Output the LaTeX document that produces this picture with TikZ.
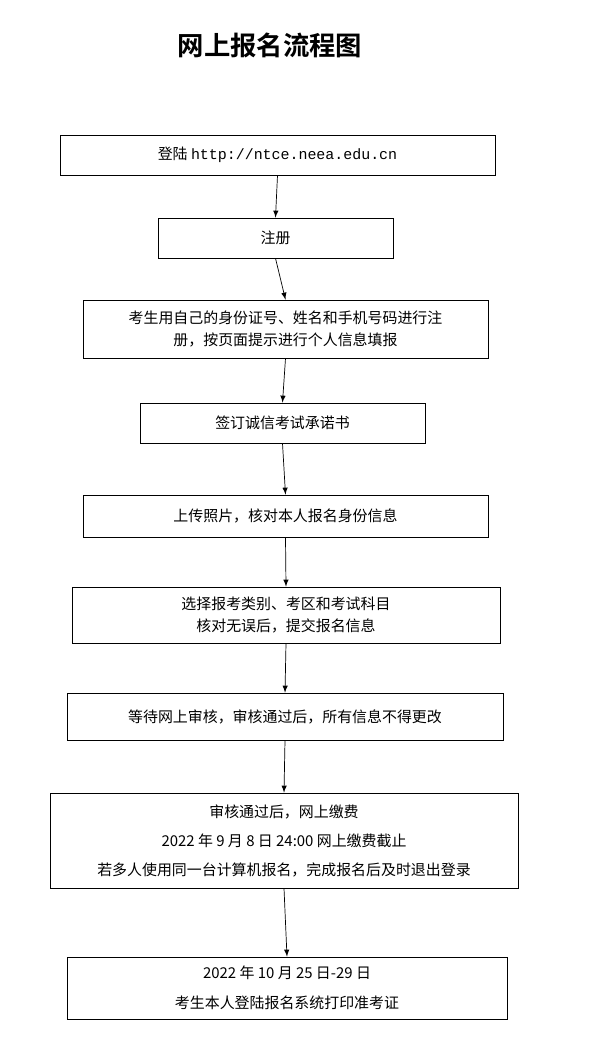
\documentclass[tikz,border=0pt]{standalone}
\usepackage{fontspec}
\setmainfont{Noto Sans CJK SC}
\setmonofont{Liberation Mono}
\newfontfamily\titlefont{Noto Sans CJK SC Bold}
\begin{document}
\begin{tikzpicture}[> = latex,
	stepbox/.style = {draw, thin, align = center, inner sep = 0pt, font = \fontsize{8.5}{12.5}\selectfont}]

	\useasboundingbox (0, 0) rectangle (12, -20.92);

	% Title

	\node (title) at (5.4, -0.9) {\titlefont\fontsize{15}{17}\selectfont 网上报名流程图};

	% Steps

	\node [stepbox, minimum width = 8.7cm, minimum height = 0.8cm] (login) at (5.55, -3.1) {登陆 \texttt{http://ntce.neea.edu.cn}};
	\node [stepbox, minimum width = 4.7cm, minimum height = 0.8cm] (register) at (5.51, -4.76) {注册};
	\node [stepbox, minimum width = 8.1cm, minimum height = 1.16cm] (info) at (5.71, -6.58) {考生用自己的身份证号、姓名和手机号码进行注\\册，按页面提示进行个人信息填报};
	\node [stepbox, minimum width = 5.7cm, minimum height = 0.8cm] (promise) at (5.65, -8.46) {签订诚信考试承诺书};
	\node [stepbox, minimum width = 8.1cm, minimum height = 0.84cm] (photo) at (5.71, -10.32) {上传照片，核对本人报名身份信息};
	\node [stepbox, minimum width = 8.56cm, minimum height = 1.12cm] (subject) at (5.72, -12.3) {选择报考类别、考区和考试科目\\核对无误后，提交报名信息};
	\node [stepbox, minimum width = 8.72cm, minimum height = 0.94cm] (review) at (5.7, -14.33) {等待网上审核，审核通过后，所有信息不得更改};
	\node [stepbox, minimum width = 9.36cm, minimum height = 1.9cm, font = \fontsize{8.5}{16.5}\selectfont] (pay) at (5.68, -16.81) {审核通过后，网上缴费\\2022 年 9 月 8 日 24:00 网上缴费截止\\若多人使用同一台计算机报名，完成报名后及时退出登录};
	\node [stepbox, minimum width = 8.8cm, minimum height = 1.24cm, font = \fontsize{8.5}{17}\selectfont] (ticket) at (5.74, -19.76) {2022 年 10 月 25 日-29 日\\考生本人登陆报名系统打印准考证};

	% Connectors

	\foreach \a / \b in {login/register, register/info, info/promise, promise/photo, photo/subject, subject/review, review/pay, pay/ticket}
		\draw [->] (\a.south) -- (\b.north);

\end{tikzpicture}
\end{document}
